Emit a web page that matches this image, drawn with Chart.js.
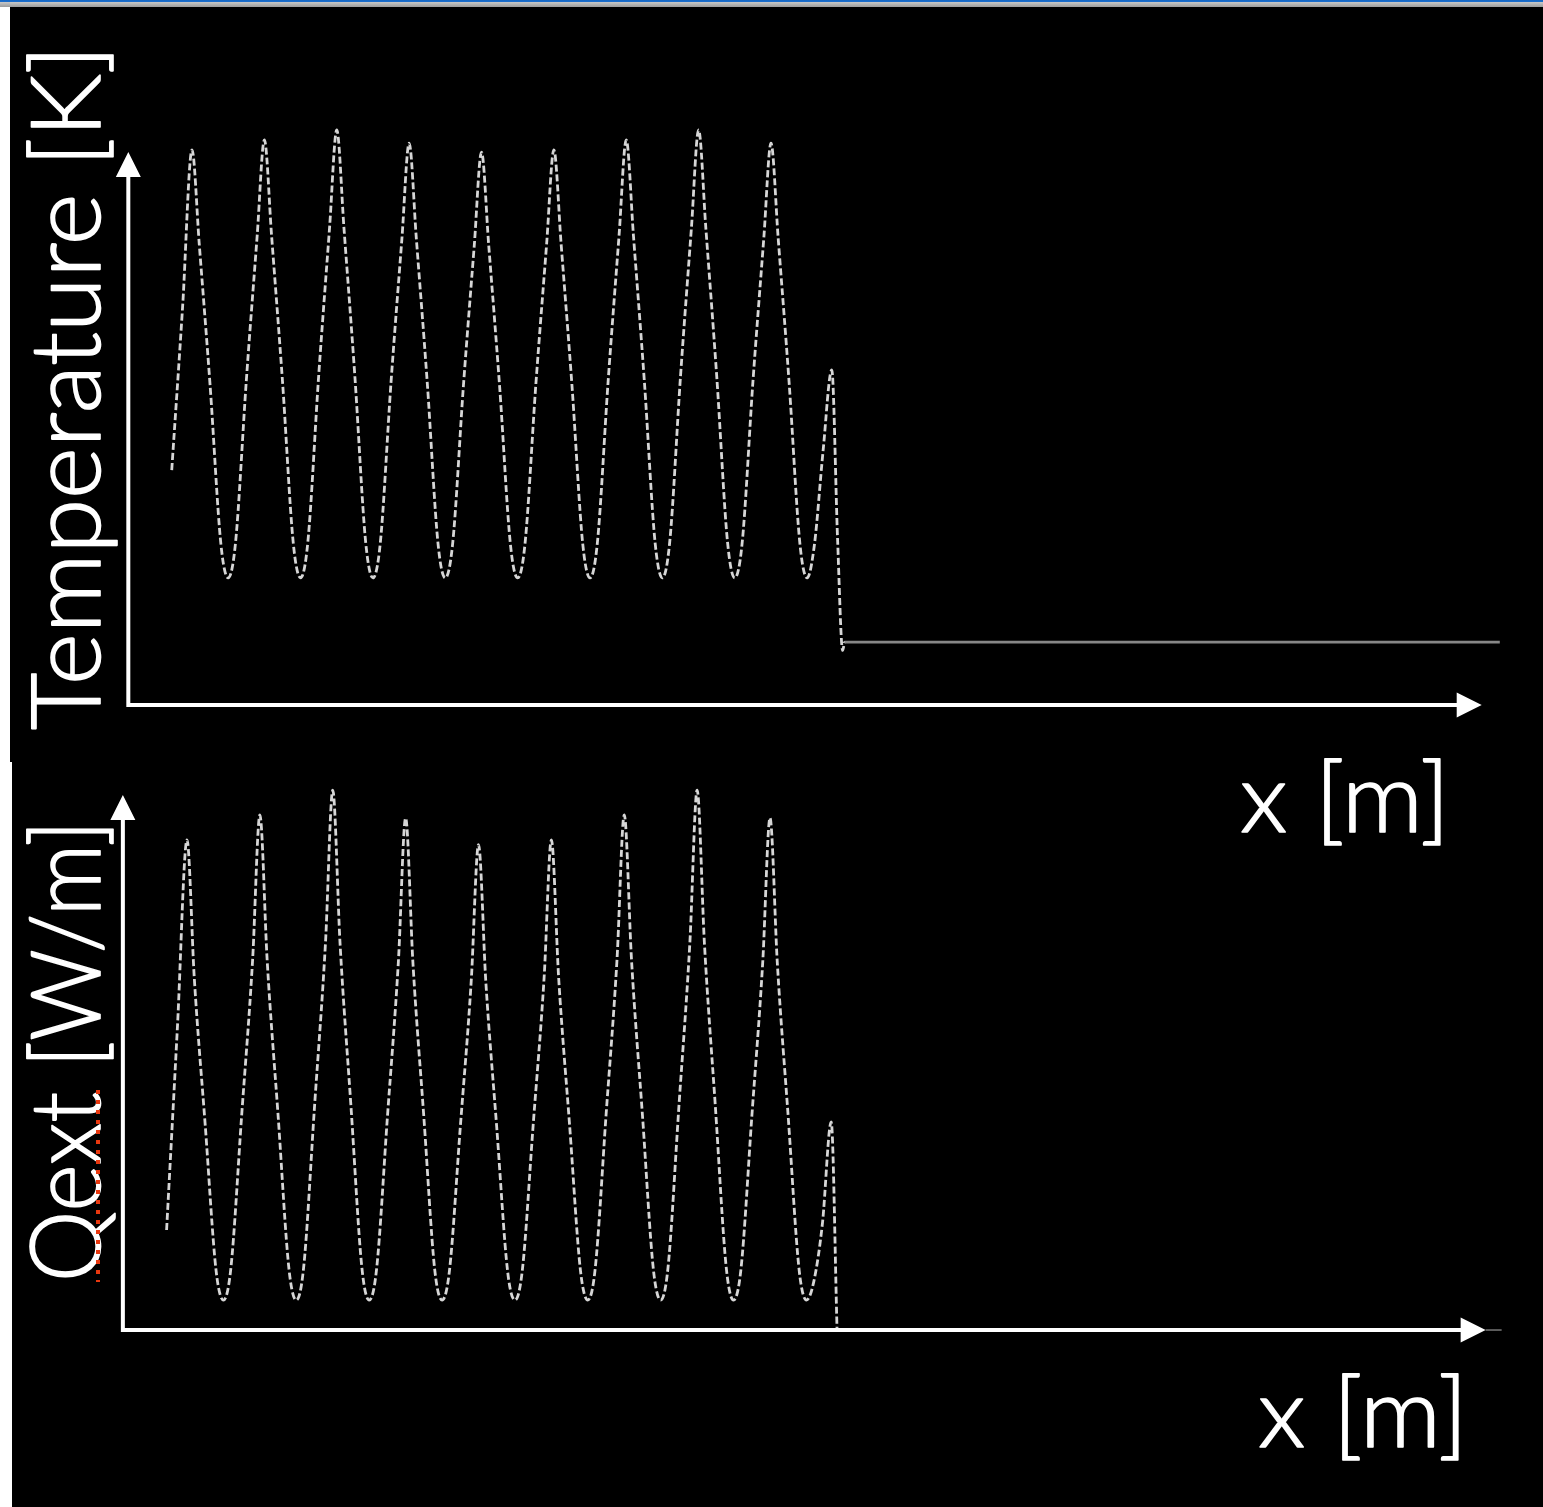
<!DOCTYPE html>
<html>
<head>
<meta charset="utf-8">
<title>Temperature / Qext</title>
<script src="https://cdn.jsdelivr.net/npm/chart.js@4.4.1/dist/chart.umd.min.js"></script>
<style>
  html, body { margin: 0; padding: 0; background: #000; }
  body { width: 1543px; height: 1507px; position: relative; overflow: hidden; }
  canvas { position: absolute; left: 0; }
  #g1 { top: 0; }
  #g2 { top: 762px; }
  #topbar { position: absolute; left: 0; top: 0; width: 1543px; height: 7px; z-index: 2;
            background: linear-gradient(#1565c0 0, #1a6fd0 2px, #c8c8c8 2px, #9c9c9c 7px); }
  #edge1 { position: absolute; left: 0; top: 7px; width: 10px; height: 755px; background: #fff; z-index: 2; }
  #edge2 { position: absolute; left: 0; top: 762px; width: 12px; height: 745px; background: #fff; z-index: 2; }
</style>
</head>
<body>
<canvas id="g1" width="1543" height="870"></canvas>
<canvas id="g2" width="1543" height="745"></canvas>
<div id="topbar"></div>
<div id="edge1"></div>
<div id="edge2"></div>
<script>
// sample positions along x [m] (shared by both profiles)
var xPos = [
  0.60, 0.75, 0.88,
  0.98, 1.13, 1.28, 1.38, 1.48, 1.63, 1.78, 1.88,
  1.98, 2.13, 2.28, 2.38, 2.48, 2.63, 2.78, 2.88,
  2.98, 3.13, 3.28, 3.38, 3.48, 3.63, 3.78, 3.88,
  3.98, 4.13, 4.28, 4.38, 4.48, 4.63, 4.78, 4.88,
  4.98, 5.13, 5.28, 5.38, 5.48, 5.63, 5.78, 5.88,
  5.98, 6.13, 6.28, 6.38, 6.48, 6.63, 6.78, 6.88,
  6.98, 7.13, 7.28, 7.38, 7.48, 7.63, 7.78, 7.88,
  7.98, 8.13, 8.28, 8.38, 8.48, 8.63, 8.78, 8.88,
  8.98, 9.13, 9.28, 9.38, 9.48, 9.60, 9.72
];

// temperature profile
var tempK = [
  42.5, 72.0, 100.4,
  83.4, 57.8, 29.0, 23.0, 29.2, 58.6, 84.8, 102.2,
  84.8, 58.6, 29.2, 23.0, 29.4, 59.5, 86.2, 104.0,
  86.2, 59.5, 29.4, 23.0, 29.1, 58.4, 84.3, 101.6,
  84.3, 58.4, 29.1, 23.0, 29.0, 57.7, 83.1, 100.0,
  83.1, 57.7, 29.0, 23.0, 29.0, 57.8, 83.4, 100.4,
  83.4, 57.8, 29.0, 23.0, 29.2, 58.6, 84.8, 102.2,
  84.8, 58.6, 29.2, 23.0, 29.4, 59.5, 86.2, 104.0,
  86.2, 59.5, 29.4, 23.0, 29.1, 58.4, 84.3, 101.6,
  84.3, 58.4, 29.1, 23.0, 29.0, 46.0, 60.6
];
var xTempTail = [9.80, 9.87, 9.90, 18.95];
var tempTail = [30.0, 9.9, 11.4, 11.4];

// external heat flux profile
var qext = [
  18.7, 57.0, 91.6,
  65.8, 38.3, 11.0, 5.6, 11.3, 40.1, 69.1, 96.3,
  69.1, 40.1, 11.3, 5.6, 11.6, 41.8, 72.3, 100.9,
  72.3, 41.8, 11.6, 5.6, 11.2, 39.8, 68.7, 95.7,
  68.7, 39.8, 11.2, 5.6, 10.9, 37.9, 65.2, 90.7,
  65.2, 37.9, 10.9, 5.6, 11.0, 38.3, 65.8, 91.6,
  65.8, 38.3, 11.0, 5.6, 11.3, 40.1, 69.1, 96.3,
  69.1, 40.1, 11.3, 5.6, 11.6, 41.8, 72.3, 100.9,
  72.3, 41.8, 11.6, 5.6, 11.2, 39.8, 68.7, 95.7,
  68.7, 39.8, 11.2, 5.6, 9.0, 20.0, 38.9
];
var xQextTail = [9.80];
var qextTail = [0];

// axis arrow ends (data units)
var xAxisEnd = 18.7;
var yAxisEnd = 100;

function toPoints(xs, ys) {
  return xs.map(function(x, i) { return {x: x, y: ys[i]}; });
}

function drawLabel(ctx, text, x, y, len, vertical) {
  ctx.save();
  ctx.translate(x, y);
  if (vertical) ctx.rotate(-Math.PI / 2);
  var w = ctx.measureText(text).width;
  ctx.scale(len / w, 1);
  ctx.fillText(text, 0, 0);
  ctx.strokeText(text, 0, 0);
  ctx.restore();
}

// white arrow axes + axis titles
var arrowAxes = {
  id: 'arrowAxes',
  afterDatasetsDraw: function(chart, args, o) {
    var ctx = chart.ctx, xs = chart.scales.x, ys = chart.scales.y;
    var x0 = xs.getPixelForValue(0), x1 = xs.getPixelForValue(xAxisEnd);
    var y0 = ys.getPixelForValue(0), y1 = ys.getPixelForValue(yAxisEnd);
    var head = 25, half = 12.5;
    ctx.save();
    ctx.strokeStyle = '#fff';
    ctx.fillStyle = '#fff';
    ctx.lineWidth = 4;
    ctx.beginPath();
    ctx.moveTo(x0, y0 + 2);
    ctx.lineTo(x0, y1 + head - 2);
    ctx.moveTo(x0 - 2, y0);
    ctx.lineTo(x1 - head + 2, y0);
    ctx.stroke();
    ctx.beginPath();
    ctx.moveTo(x0, y1);
    ctx.lineTo(x0 - half, y1 + head);
    ctx.lineTo(x0 + half, y1 + head);
    ctx.closePath();
    ctx.moveTo(x1, y0);
    ctx.lineTo(x1 - head, y0 - half);
    ctx.lineTo(x1 - head, y0 + half);
    ctx.closePath();
    ctx.fill();
    if (o.tail) {
      ctx.strokeStyle = 'rgba(200,200,200,0.6)';
      ctx.lineWidth = 1.5;
      ctx.beginPath();
      ctx.moveTo(x1, y0);
      ctx.lineTo(x1 + o.tail, y0);
      ctx.stroke();
    }

    // light face, thickened a little with a thin outline
    ctx.font = '300 96px Lato, "Open Sans", sans-serif';
    ctx.textAlign = 'left';
    ctx.textBaseline = 'alphabetic';
    ctx.strokeStyle = '#fff';
    ctx.lineWidth = 1.6;
    ctx.lineJoin = 'round';
    drawLabel(ctx, o.yTitle, o.yTitlePos[0], o.yTitlePos[1], o.yTitlePos[2], true);
    drawLabel(ctx, o.xTitle, o.xTitlePos[0], o.xTitlePos[1], o.xTitlePos[2], false);

    if (o.squiggle) {
      ctx.strokeStyle = '#e8380f';
      ctx.lineWidth = 4;
      ctx.setLineDash([4, 6]);
      ctx.beginPath();
      ctx.moveTo(o.squiggle[0], o.squiggle[1]);
      ctx.lineTo(o.squiggle[0], o.squiggle[2]);
      ctx.stroke();
    }
    ctx.restore();
  }
};

function lineOptions(xMin, xMax, yMin, yMax, frame) {
  return {
    responsive: false,
    devicePixelRatio: 1,
    animation: false,
    layout: { padding: 0 },
    elements: { point: { radius: 0 } },
    plugins: {
      legend: { display: false },
      tooltip: { enabled: false },
      arrowAxes: frame
    },
    scales: {
      x: { type: 'linear', display: false, min: xMin, max: xMax },
      y: { type: 'linear', display: false, min: yMin, max: yMax }
    }
  };
}

var flatFrom = 9.89;

new Chart(document.getElementById('g1'), {
  type: 'line',
  data: {
    datasets: [{
      label: 'Temperature [K]',
      data: toPoints(xPos, tempK).concat(toPoints(xTempTail, tempTail)),
      borderColor: 'rgba(225,225,225,0.95)',
      borderWidth: 2.8,
      borderDash: [7, 3],
      cubicInterpolationMode: 'monotone',
      segment: {
        borderDash: function(c) { return c.p0.parsed.x >= flatFrom ? [] : undefined; },
        borderColor: function(c) { return c.p0.parsed.x >= flatFrom ? 'rgba(150,150,150,0.9)' : undefined; }
      }
    }]
  },
  options: lineOptions(-1.773, 19.547, -29.82, 127.5, {
    yTitle: 'Temperature [K]',
    yTitlePos: [100, 730, 685],
    xTitle: 'x [m]',
    xTitlePos: [1240, 832, 210]
  }),
  plugins: [arrowAxes]
});

new Chart(document.getElementById('g2'), {
  type: 'line',
  data: {
    datasets: [{
      label: 'Qext [W/m]',
      data: toPoints(xPos, qext).concat(toPoints(xQextTail, qextTail)),
      borderColor: 'rgba(225,225,225,0.95)',
      borderWidth: 2.8,
      borderDash: [7, 3],
      cubicInterpolationMode: 'monotone'
    }]
  },
  options: lineOptions(-1.686, 19.487, -33.08, 106.17, {
    yTitle: 'Qext [W/m]',
    yTitlePos: [100, 520, 462],
    xTitle: 'x [m]',
    xTitlePos: [1258, 685, 210],
    tail: 16,
    squiggle: [98, 328, 520]
  }),
  plugins: [arrowAxes]
});
</script>
</body>
</html>
